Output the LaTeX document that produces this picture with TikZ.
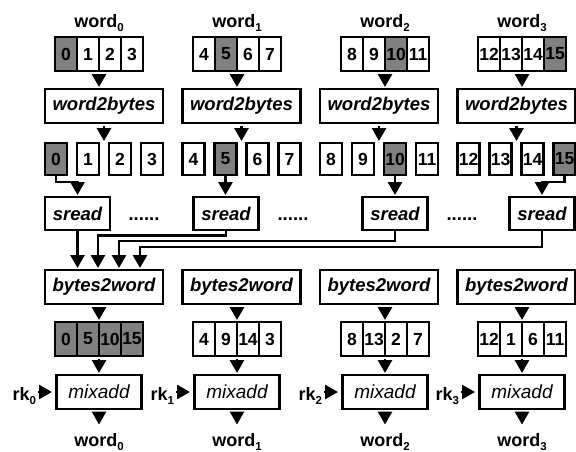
\documentclass[tikz,border=0pt]{standalone}
\usepackage{fontspec}
\setmainfont{Liberation Sans}
\usetikzlibrary{arrows.meta,calc}
\definecolor{cgray}{RGB}{128,128,128}
\newcommand\labfont{\fontsize{18}{20}\selectfont\bfseries}
\newcommand\digfont{\fontsize{17.5}{20}\selectfont\bfseries}
\newcommand\boxfont{\fontsize{18.5}{20}\selectfont\bfseries\itshape}
\newcommand\mixfont{\fontsize{19}{20}\selectfont\itshape}
\newcommand\mysub[1]{\raisebox{-4pt}{\fontsize{11.5}{11.5}\selectfont\bfseries #1}}
\begin{document}
\begin{tikzpicture}[x=1pt,y=-1pt,line width=2.8pt,
  lab/.style={font=\labfont, inner sep=0pt},
  cell/.style={draw, minimum width=22pt, minimum height=34pt, inner sep=0pt, outer sep=0pt, font=\digfont},
  gcell/.style={cell, fill=cgray},
  byte/.style={draw, minimum width=22pt, minimum height=32pt, inner sep=0pt, outer sep=0pt, font=\digfont},
  gbyte/.style={byte, fill=cgray},
  fnbox/.style={draw, fill=white, minimum width=118pt, minimum height=34pt, inner sep=0pt, outer sep=0pt, font=\boxfont},
  sbox/.style={fnbox, minimum width=65pt, minimum height=33pt},
  mbox/.style={fnbox, minimum width=85pt, font=\mixfont},
  tri/.style={-{Triangle[length=13pt,width=14pt]}, shorten >=2pt},
  arr/.style={tri, shorten <=3pt},
]
\useasboundingbox (0,0) rectangle (576,451);

\foreach \i/\cx/\bx/\cells in {0/99/104/{0,5,10,15},1/237/241.5/{4,9,14,3},2/385/379/{8,13,2,7},3/522/516.5/{12,1,6,11}} {
  % input word
  \node[lab, anchor=base] (wi\i) at (\cx,27) {word\mysub{\i}};
  \foreach \j in {0,...,3} {
    \pgfmathtruncatemacro\n{4*\i+\j}
    \ifnum\j=\i \def\st{gcell}\def\bs{gbyte}\else\def\st{cell}\def\bs{byte}\fi
    \node[\st] (t\n) at ({\cx+(\j-1.5)*22},54) {\n};
    \node[\bs] (b\n) at ({\bx+(\j-1.5)*32},159) {\n};
  }
  \pgfmathtruncatemacro\a{4*\i+1}
  \node[fnbox] (wb\i) at (\bx,106) {word2bytes};
  \draw[arr] (t\a.south east) -- (t\a.south east |- wb\i.north);
  \draw[arr] (wb\i.south) -- (wb\i.south |- b\a.north);
  % output side
  \node[fnbox] (bw\i) at (\bx,287) {bytes2word};
  \foreach \v [count=\k from 0] in \cells {
    \ifnum\i=0 \def\st{gcell}\else\def\st{cell}\fi
    \node[\st] (c\i\k) at ({\cx+(\k-1.5)*22},339) {\v};
  }
  \draw[arr] (bw\i.south -| c\i1.north east) -- (c\i1.north east);
  \node[mbox] (m\i) at (\cx,392) {mixadd};
  \draw[arr] (c\i1.south east) -- (c\i1.south east |- m\i.north);
  \node[lab, anchor=base] (wo\i) at (\cx,446) {word\mysub{\i}};
  \draw[arr, shorten >=7pt] (m\i.south) -- (wo\i.north);
  \node[lab, anchor=base east] (rk\i) at ({\cx-61.5},400) {rk\mysub{\i}};
  \draw[tri, shorten >=4.5pt] (rk\i.east |- m\i.west) -- (m\i.west);
}

% sread units
\node[sbox] (s0) at (77.5,213.5) {sread};
\node[sbox] (s1) at (226,213.5) {sread};
\node[sbox] (s2) at (395,213.5) {sread};
\node[sbox] (s3) at (542,213.5) {sread};
\node[font=\boxfont\upshape, anchor=base, inner sep=0pt] (d0) at (144,220) {......};
\node[font=\boxfont\upshape, anchor=base, inner sep=0pt] (d1) at (293,220) {......};
\node[font=\boxfont\upshape, anchor=base, inner sep=0pt] (d2) at (462,220) {......};

% bytes into sread
\draw[tri] (b0.south) -- ++(0,7) -| (s0.north);
\draw[tri] (b5.south) -- (b5.south |- s1.north);
\draw[tri] (b10.south) -- (b10.south |- s2.north);
\draw[tri] (b15.south) -- ++(0,7) -| (s3.north);

% sread into bytes2word
\draw[tri] (s0.south) -- (s0.south |- bw0.north);
\draw[tri] (s1.south) -- ++(0,5.5) -| ($(bw0.north west)+(53,0)$);
\draw[tri] (s2.south) -- ++(0,11) -| ($(bw0.north west)+(74,0)$);
\draw[tri] (s3.south) -- ++(0,17) -| ($(bw0.north west)+(95,0)$);
\end{tikzpicture}
\end{document}
